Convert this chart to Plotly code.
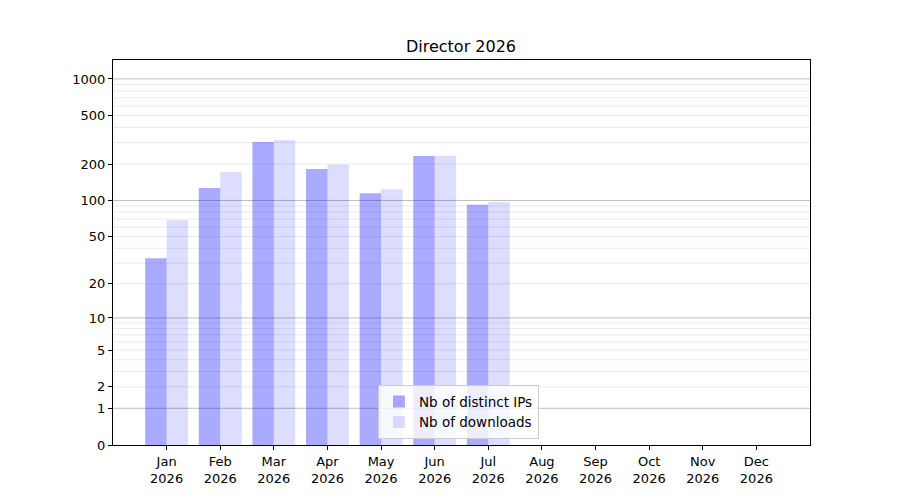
import numpy as np
import plotly.graph_objects as go

# Havi adatok
months = ['Jan', 'Feb', 'Mar', 'Apr', 'May', 'Jun', 'Jul', 'Aug', 'Sep', 'Oct', 'Nov', 'Dec']
year = '2026'
distinct_ips = [33, 127, 303, 182, 115, 233, 92, 0, 0, 0, 0, 0]
downloads = [69, 172, 315, 198, 124, 234, 97, 0, 0, 0, 0, 0]

tick_values = [0, 1, 2, 5, 10, 20, 50, 100, 200, 500, 1000]
major_grid = [1, 10, 100, 1000]
minor_grid = [m * 10 ** e for e in range(3) for m in range(2, 10)] + [2000, 3000]


# log10(1 + x) skála, mint a matplotlib függvényskála
def tr(v):
    return np.log10(1 + np.asarray(v, dtype=float))


x = list(range(len(months)))
font = 'DejaVu Sans'

fig = go.Figure()
fig.add_trace(go.Bar(
    x=x, y=tr(distinct_ips), name='Nb of distinct IPs',
    marker=dict(color='rgba(0,0,255,0.333)', line=dict(width=0)),
))
fig.add_trace(go.Bar(
    x=x, y=tr(downloads), name='Nb of downloads',
    marker=dict(color='rgba(0,0,255,0.133)', line=dict(width=0)),
))

ymax = 385 / 122.0

# rácsvonalak
shapes = []
for v in minor_grid:
    if tr(v) < ymax:
        shapes.append(dict(type='line', xref='paper', yref='y', x0=0, x1=1, y0=float(tr(v)), y1=float(tr(v)),
                           line=dict(color='#ebebeb', width=1), layer='below'))
for v in major_grid:
    shapes.append(dict(type='line', xref='paper', yref='y', x0=0, x1=1, y0=float(tr(v)), y1=float(tr(v)),
                       line=dict(color='#bfbfbf', width=1), layer='below'))

# az oldal 8 px-es margóját levonjuk
W, H = 892, 492
fig.update_layout(
    width=W, height=H,
    margin=dict(l=105, r=90, t=52, b=55),
    paper_bgcolor='white', plot_bgcolor='white',
    font=dict(family=font, size=13, color='black'),
    title=dict(text='Director 2026', x=453 / W, xanchor='center',
               y=1 - 38 / H, yanchor='middle', font=dict(size=16)),
    barmode='group', bargap=0.2, bargroupgap=0,
    shapes=shapes,
    showlegend=True,
    legend=dict(x=(378 - 113) / 697, y=0.015, xanchor='left', yanchor='bottom',
                bgcolor='rgba(255,255,255,0.8)', bordercolor='#cccccc', borderwidth=1,
                font=dict(size=13.5), tracegroupgap=0),
)

fig.update_xaxes(
    range=[-1, 12], tickmode='array', tickvals=x,
    ticktext=[f'{m}<br>{year}' for m in months],
    showgrid=False, zeroline=False,
    showline=True, linecolor='black', linewidth=1, mirror=True,
    ticks='outside', ticklen=4, tickcolor='black',
)
fig.update_yaxes(
    range=[0, ymax], tickmode='array', tickvals=tr(tick_values),
    ticktext=[str(v) for v in tick_values],
    showgrid=False, zeroline=False,
    showline=True, linecolor='black', linewidth=1, mirror=True,
    ticks='outside', ticklen=4, tickcolor='black',
)

fig.write_html('out.html')
